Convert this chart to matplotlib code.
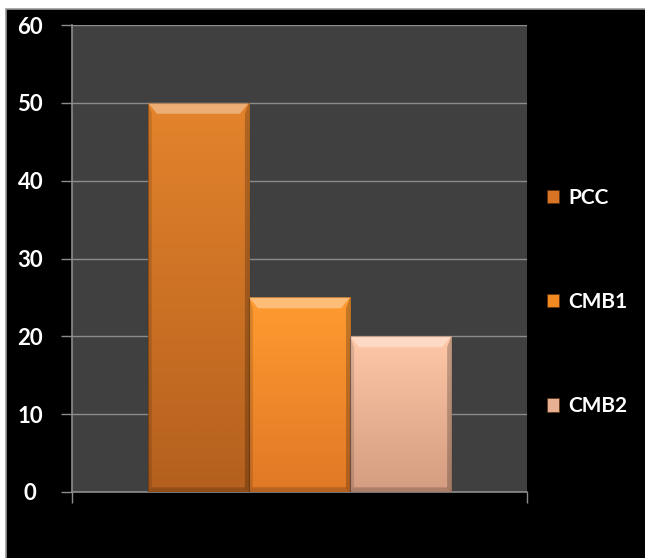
import numpy as np
import matplotlib
matplotlib.use("Agg")
import matplotlib.pyplot as plt
from matplotlib.patches import Rectangle, Polygon
from matplotlib.colors import LinearSegmentedColormap

# Series and values
series = ["PCC", "CMB1", "CMB2"]
values = [50, 25, 20]
y_ticks = [0, 10, 20, 30, 40, 50, 60]

# top / bottom shade for each series
top_colors = ["#e4842c", "#ff9b30", "#ffc8a8"]
bottom_colors = ["#b4601e", "#e07826", "#d49c80"]
legend_colors = ["#d87424", "#f28a22", "#e8b092"]

plt.rcParams["font.family"] = ["Lato", "DejaVu Sans"]
plt.rcParams["font.weight"] = "bold"

fig = plt.figure(figsize=(6.45, 5.58), dpi=100)
fig.patch.set_facecolor("white")
# dark chart canvas with a thin grey frame on the left and top
fig.add_artist(Rectangle((6 / 645, -0.05), 1.1, 1.05 - 9 / 558, transform=fig.transFigure,
                         facecolor="black", edgecolor="#9a9a9a", linewidth=1.2, zorder=0))

ax = fig.add_axes([72 / 645, 1 - 492 / 558, 455 / 645, 467 / 558])
ax.set_facecolor("#404040")
ax.set_xlim(-1.25, 3.25)
ax.set_ylim(0, 60)

ax.set_yticks(y_ticks)
ax.set_yticklabels([str(t) for t in y_ticks], color="white", fontsize=16, fontweight="bold",
                   ha="center")
ax.grid(axis="y", color="#8c8c8c", linewidth=1.0, zorder=1)
ax.set_axisbelow(True)
ax.tick_params(axis="y", length=8, width=1.0, color="#8c8c8c", pad=22)
ax.set_xticks([-1.25, 3.25])
ax.set_xticklabels(["", ""])
ax.tick_params(axis="x", length=8, width=1.0, color="#8c8c8c", direction="out")
for side in ["top", "right"]:
    ax.spines[side].set_visible(False)
for side in ["left", "bottom"]:
    ax.spines[side].set_color("#8c8c8c")
    ax.spines[side].set_linewidth(1.2)

xs = np.arange(len(series))
width = 1.0
bars = ax.bar(xs, values, width=width, color="none", edgecolor="none", zorder=2)

grad = np.linspace(0, 1, 256).reshape(-1, 1)
for bar, top, bot in zip(bars, top_colors, bottom_colors):
    x0, w, h = bar.get_x(), bar.get_width(), bar.get_height()
    cmap = LinearSegmentedColormap.from_list("g", [bot, top])
    im = ax.imshow(grad, extent=(x0, x0 + w, 0, h), origin="lower", aspect="auto",
                   cmap=cmap, zorder=3, interpolation="bicubic")
    im.set_clip_path(bar)
    # bevel: light strip along the top, darker sides and base
    dx = 0.09 * w
    dy = 1.4
    ax.add_patch(Polygon([(x0, h), (x0 + w, h), (x0 + w - dx, h - dy), (x0 + dx, h - dy)],
                         closed=True, facecolor="white", alpha=0.35, edgecolor="none", zorder=4))
    ax.add_patch(Polygon([(x0, 0), (x0, h), (x0 + 0.04 * w, h - dy), (x0 + 0.04 * w, 0.5)],
                         closed=True, facecolor="black", alpha=0.12, edgecolor="none", zorder=4))
    ax.add_patch(Polygon([(x0 + w, 0), (x0 + w, h), (x0 + w - 0.04 * w, h - dy), (x0 + w - 0.04 * w, 0.5)],
                         closed=True, facecolor="black", alpha=0.22, edgecolor="none", zorder=4))
    ax.add_patch(Polygon([(x0, 0), (x0 + w, 0), (x0 + w - 0.04 * w, 0.6), (x0 + 0.04 * w, 0.6)],
                         closed=True, facecolor="black", alpha=0.18, edgecolor="none", zorder=4))
    ax.add_patch(Rectangle((x0, 0), w, h, facecolor="none", edgecolor="black",
                           alpha=0.25, linewidth=0.8, zorder=5))

handles = [Rectangle((0, 0), 1, 1, facecolor=c, edgecolor="#5a3010", linewidth=0.5)
           for c in legend_colors]
leg = fig.legend(handles, series, loc="center left", bbox_to_anchor=(528 / 645, 1 - 302 / 558),
                 frameon=False, labelspacing=4.05, handlelength=0.6, handleheight=0.6,
                 handletextpad=0.45, prop={"family": ["Lato", "DejaVu Sans"], "weight": "bold", "size": 15})
for t in leg.get_texts():
    t.set_color("white")

fig.savefig("out.png", dpi=100, facecolor=fig.get_facecolor())
